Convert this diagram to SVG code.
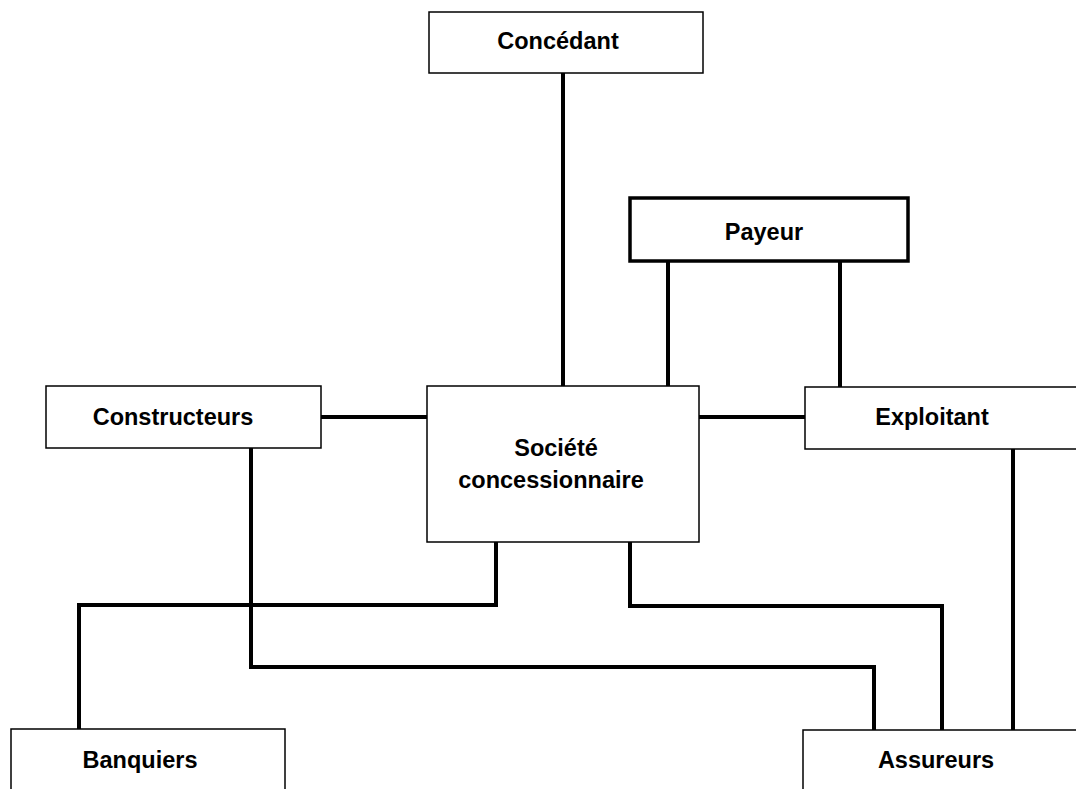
<svg xmlns="http://www.w3.org/2000/svg" width="1076" height="789" viewBox="0 0 1076 789">
  <style>
    .box { fill: #ffffff; stroke: #000000; stroke-width: 1.5; }
    .box-strong { fill: #ffffff; stroke: #000000; stroke-width: 3.5; }
    .label { font-family: "Liberation Sans", Arial, Helvetica, sans-serif; font-weight: bold; font-size: 23.5px; fill: #000000; text-anchor: middle; }
    .link { fill: none; stroke: #000000; stroke-width: 4; stroke-linejoin: miter; }
  </style>
  <rect width="1076" height="789" fill="#ffffff"/>

  <!-- connectors -->
  <g id="connectors">
    <!-- Concédant to Société concessionnaire -->
    <path class="link" d="M563 73 V386"/>
    <!-- Payeur to Société concessionnaire and Exploitant -->
    <path class="link" d="M668 261 V386"/>
    <path class="link" d="M840 261 V387"/>
    <!-- Constructeurs / Exploitant to Société concessionnaire -->
    <path class="link" d="M321 417 H427"/>
    <path class="link" d="M699 417 H805"/>
    <!-- Société concessionnaire to Banquiers -->
    <path class="link" d="M496 542 V605 H79 V730"/>
    <!-- Constructeurs to Assureurs -->
    <path class="link" d="M251 448 V667 H874 V730"/>
    <!-- Société concessionnaire to Assureurs -->
    <path class="link" d="M630 542 V606 H942 V730"/>
    <!-- Exploitant to Assureurs -->
    <path class="link" d="M1013 449 V730"/>
  </g>

  <g id="concedant">
    <rect class="box" x="429" y="12" width="274" height="61"/>
    <text class="label" x="558" y="49">Concédant</text>
  </g>

  <g id="payeur">
    <rect class="box-strong" x="630" y="198" width="278" height="63"/>
    <text class="label" x="764" y="240">Payeur</text>
  </g>

  <g id="constructeurs">
    <rect class="box" x="46" y="386" width="275" height="62"/>
    <text class="label" x="173" y="425">Constructeurs</text>
  </g>

  <g id="societe-concessionnaire">
    <rect class="box" x="427" y="386" width="272" height="156"/>
    <text class="label" x="556" y="456">Société</text>
    <text class="label" x="551" y="488">concessionnaire</text>
  </g>

  <g id="exploitant">
    <rect class="box" x="805" y="387" width="290" height="62"/>
    <text class="label" x="932" y="425">Exploitant</text>
  </g>

  <g id="banquiers">
    <rect class="box" x="11" y="729" width="274" height="80"/>
    <text class="label" x="140" y="768">Banquiers</text>
  </g>

  <g id="assureurs">
    <rect class="box" x="803" y="730" width="290" height="80"/>
    <text class="label" x="936" y="768">Assureurs</text>
  </g>
</svg>
